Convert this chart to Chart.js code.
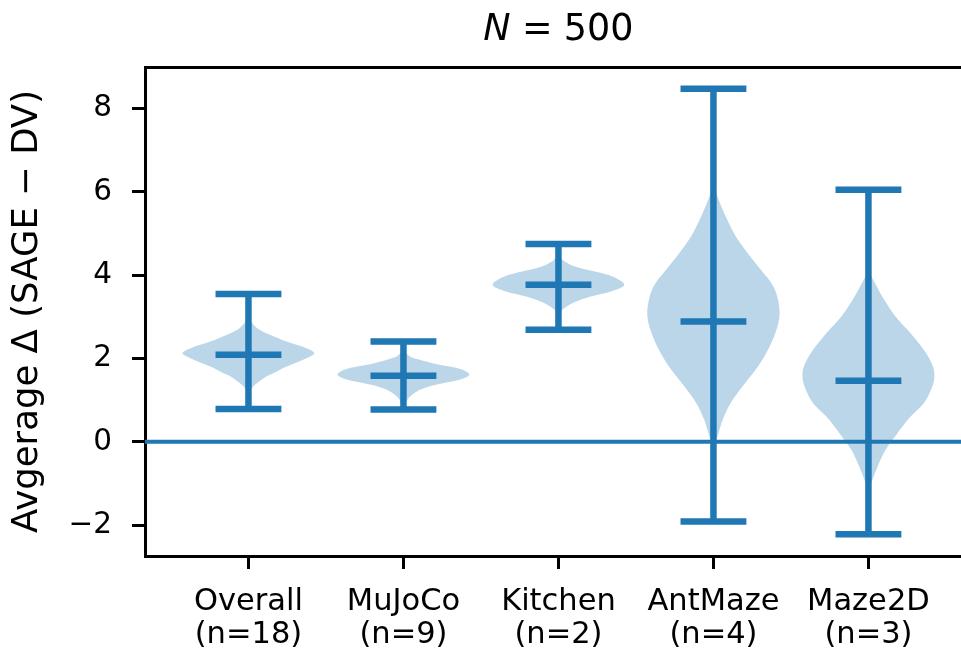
<!DOCTYPE html>
<html>
<head>
<meta charset="utf-8">
<script src="https://cdn.jsdelivr.net/npm/chart.js@4"></script>
<style>
  html, body { margin: 0; padding: 0; background: #fff; overflow: hidden; }
  #wrap { width: 1000px; height: 650px; }
</style>
</head>
<body>
<div id="wrap"><canvas id="c" width="1000" height="650"></canvas></div>
<script>
// Environments and number of tasks in each
const categories = ['Overall', 'MuJoCo', 'Kitchen', 'AntMaze', 'Maze2D'];
const counts = [18, 9, 2, 4, 3];
const positions = [1, 2, 3, 4, 5];

// Extrema and median of the averaged delta per environment
const mins = [0.79, 0.78, 2.69, -1.91, -2.22];
const maxs = [3.55, 2.41, 4.75, 8.48, 6.05];
const medians = [2.09, 1.59, 3.77, 2.89, 1.47];

// Density profiles of each violin: value levels (top to bottom) and relative width
const overallY = [3.05, 2.85, 2.69, 2.55, 2.41, 2.25, 2.13, 2.01, 1.81, 1.65, 1.57, 1.37, 1.22];
const overallW = [0, 0.06, 0.17, 0.36, 0.58, 0.88, 1.0, 0.88, 0.58, 0.38, 0.27, 0.10, 0];
const mujocoY = [2.20, 2.05, 1.97, 1.89, 1.81, 1.73, 1.61, 1.49, 1.37, 1.25, 1.09, 0.92];
const mujocoW = [0, 0.10, 0.25, 0.44, 0.70, 0.90, 1.0, 0.85, 0.49, 0.25, 0.10, 0];
const kitchenY = [4.50, 4.35, 4.21, 4.09, 3.97, 3.77, 3.61, 3.49, 3.33, 3.17, 3.02];
const kitchenW = [0, 0.08, 0.25, 0.55, 0.82, 1.0, 0.80, 0.49, 0.21, 0.06, 0];
const antmazeY = [6.15, 5.73, 5.33, 4.93, 4.53, 4.13, 3.73, 3.33, 2.97, 2.53, 2.13, 1.73, 1.33, 0.93, 0.53, 0.13, -0.10];
const antmazeW = [0, 0.10, 0.21, 0.34, 0.52, 0.72, 0.91, 0.99, 1.0, 0.92, 0.80, 0.64, 0.44, 0.26, 0.14, 0.06, 0];
const maze2dY = [4.10, 3.81, 3.41, 3.01, 2.61, 2.21, 1.81, 1.53, 1.25, 0.93, 0.61, 0.21, -0.19, -0.59, -0.99, -1.15];
const maze2dW = [0, 0.10, 0.24, 0.41, 0.64, 0.84, 0.98, 1.0, 0.95, 0.84, 0.64, 0.44, 0.26, 0.14, 0.04, 0];

const profileY = [overallY, mujocoY, kitchenY, antmazeY, maze2dY];
const profileW = [overallW, mujocoW, kitchenW, antmazeW, maze2dW];

// Axis ticks, limits and texts
const yTicks = [-2, 0, 2, 4, 6, 8];
const yRange = [-2.74, 9.0];
const xRange = [0.3325, 5.6675];
const referenceValue = 0;
const yTitle = 'Avgerage \u0394 (SAGE \u2212 DV)';
const titleVar = 'N';
const titleValue = '500';

const C0 = '#1f77b4';
const bodyFill = 'rgba(31,119,180,0.3)';
const FONT = '"DejaVu Sans", "Liberation Sans", sans-serif';
const violinHalfWidth = 0.425;
const capHalfWidth = 0.2125;

// Closed outline of one violin: down the right side, back up the left side
function violinOutline(pos, ys, ws) {
  const right = ys.map((y, i) => ({ x: pos + ws[i] * violinHalfWidth, y }));
  const left = ys.map((y, i) => ({ x: pos - ws[i] * violinHalfWidth, y })).reverse();
  return right.concat(left.slice(1, -1));
}

// Vertical extent bars, caps and median markers, separated by gaps
const rangeLines = [];
positions.forEach((p, i) => {
  rangeLines.push({ x: p, y: mins[i] }, { x: p, y: maxs[i] }, { x: p, y: null });
  rangeLines.push({ x: p - capHalfWidth, y: maxs[i] }, { x: p + capHalfWidth, y: maxs[i] }, { x: p, y: null });
  rangeLines.push({ x: p - capHalfWidth, y: mins[i] }, { x: p + capHalfWidth, y: mins[i] }, { x: p, y: null });
  rangeLines.push({ x: p - capHalfWidth, y: medians[i] }, { x: p + capHalfWidth, y: medians[i] }, { x: p, y: null });
});

const datasets = [
  {
    data: rangeLines, showLine: true, spanGaps: false, pointRadius: 0,
    borderColor: C0, borderWidth: 6.5, borderCapStyle: 'butt', tension: 0, fill: false
  },
  {
    data: [{ x: xRange[0], y: referenceValue }, { x: xRange[1], y: referenceValue }],
    showLine: true, pointRadius: 0, borderColor: C0, borderWidth: 4, borderCapStyle: 'butt', fill: false
  }
];
positions.forEach((p, i) => {
  datasets.push({
    data: violinOutline(p, profileY[i], profileW[i]),
    showLine: true, pointRadius: 0, tension: 0.35,
    borderWidth: 0, borderColor: 'rgba(0,0,0,0)',
    backgroundColor: bodyFill, fill: 'shape'
  });
});

// Title with an italic variable name
const titlePlugin = {
  id: 'sampleTitle',
  afterDraw(chart) {
    const { ctx, chartArea } = chart;
    const size = 36.5;
    const cx = (chartArea.left + chartArea.right) / 2;
    const italic = `italic ${size}px ${FONT}`;
    const roman = `${size}px ${FONT}`;
    ctx.save();
    ctx.font = italic;
    const wN = ctx.measureText(titleVar).width;
    ctx.font = roman;
    const wEq = ctx.measureText('=').width;
    const wNum = ctx.measureText(titleValue).width;
    const gap = size * 0.31;
    let x = cx - (wN + gap + wEq + gap + wNum) / 2;
    const y = 40;
    ctx.fillStyle = '#000';
    ctx.textAlign = 'left';
    ctx.textBaseline = 'alphabetic';
    ctx.font = italic;
    ctx.fillText(titleVar, x, y);
    x += wN + gap;
    ctx.font = roman;
    ctx.fillText('=', x, y);
    x += wEq + gap;
    ctx.fillText(titleValue, x, y);
    ctx.restore();
  }
};

const tickGrid = {
  display: true, drawOnChartArea: false, drawTicks: true,
  tickLength: 13, tickWidth: 3, tickColor: '#000', lineWidth: 3, color: '#000'
};
const spine = { display: true, color: '#000', width: 3 };

new Chart(document.getElementById('c'), {
  type: 'scatter',
  data: { datasets },
  plugins: [titlePlugin],
  options: {
    responsive: false,
    animation: false,
    devicePixelRatio: 1,
    events: [],
    layout: { padding: { top: 67, right: 28.1, left: 0, bottom: 0 } },
    plugins: { legend: { display: false }, tooltip: { enabled: false } },
    scales: {
      x: {
        type: 'linear', position: 'bottom', min: xRange[0], max: xRange[1],
        afterBuildTicks: s => { s.ticks = positions.map(v => ({ value: v })); },
        afterFit: s => { s.height = 94; },
        ticks: {
          callback: v => {
            const i = positions.indexOf(v);
            return i < 0 ? '' : [categories[i], '(n=' + counts[i] + ')'];
          },
          font: { family: FONT, size: 30.5, lineHeight: 1.08 },
          color: '#000', padding: 17, maxRotation: 0, minRotation: 0, autoSkip: false
        },
        grid: tickGrid,
        border: spine
      },
      xTop: {
        type: 'linear', position: 'top', min: xRange[0], max: xRange[1],
        afterFit: s => { s.height = 0; },
        ticks: { display: false },
        grid: { display: false },
        border: spine
      },
      y: {
        type: 'linear', position: 'left', min: yRange[0], max: yRange[1],
        afterBuildTicks: s => { s.ticks = yTicks.map(v => ({ value: v })); },
        afterFit: s => { s.width = 145; },
        ticks: {
          callback: v => (v < 0 ? '\u2212' + Math.abs(v) : String(v)),
          font: { family: FONT, size: 29.5 }, color: '#000', padding: 20
        },
        grid: tickGrid,
        border: spine,
        title: {
          display: true, text: yTitle, color: '#000',
          font: { family: FONT, size: 35.5 }, padding: { top: 6, bottom: 0 }
        }
      }
    }
  }
});
</script>
</body>
</html>
